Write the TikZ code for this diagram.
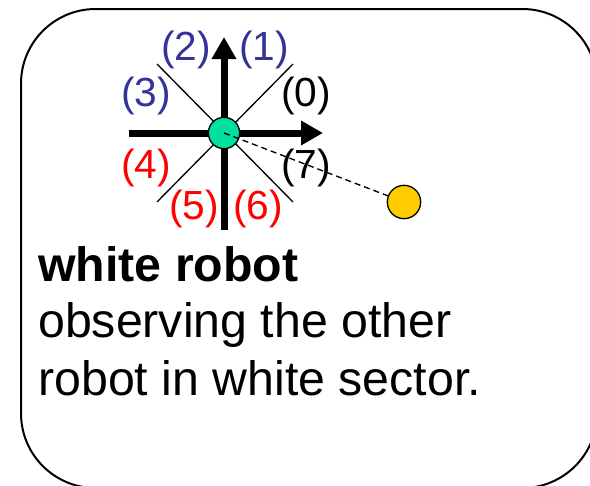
\documentclass[tikz,border=0pt]{standalone}
\usepackage{fontspec}
\setmainfont{Liberation Sans}
\usepackage{tikz}
\usetikzlibrary{arrows.meta,positioning}
\definecolor{secblue}{RGB}{51,51,153}
\definecolor{secred}{RGB}{255,0,0}
\definecolor{robotgreen}{RGB}{0,224,160}
\definecolor{robotyellow}{RGB}{255,204,0}
\begin{document}
\begin{tikzpicture}[
  x=0.75pt, y=-0.75pt,
  frame/.style={draw, line width=1.5pt, rounded corners=56pt},
  sector/.style={line width=1pt},
  axis/.style={line width=5.25pt, -{Triangle[length=16.5pt, width=17.5pt]}},
  robot/.style={circle, draw, line width=1pt, inner sep=0pt},
  lab/.style={inner sep=0pt, font=\fontsize{30.5pt}{36pt}\selectfont},
  txt/.style={inner sep=0pt, anchor=base west, font=\fontsize{36.2pt}{43pt}\selectfont}
]
\useasboundingbox (0,0) rectangle (590,486);
\clip (0,0) rectangle (590,486);
\draw[frame] (21,9) rectangle (597,488);

% sector borders
\coordinate (c) at (224,133);
\draw[sector] (157,64) -- (293,202);
\draw[sector] (293,64) -- (157,202);
% axes
\coordinate (xs) at (129,133);
\coordinate (xe) at (323,133);
\coordinate (ys) at (224,230);
\coordinate (ye) at (224,37);
\draw[axis] (xs) -- (xe);
\draw[axis] (ys) -- (ye);

% robots
\node[robot, fill=robotgreen, minimum size=23.5pt] (self) at (c) {};
\node[robot, fill=robotyellow, minimum size=25pt] (other) at (404,202) {};
\draw[line width=1pt, dash pattern=on 4.5pt off 3pt] (self.center) -- (other);

% sector labels
\foreach \n/\x/\y/\c in {0/306/96/black, 1/264/50/secblue, 2/186/50/secblue,
    3/146/96/secblue, 4/146/168/secred, 5/194/209/secred,
    6/258/209/secred, 7/306/168/black}
  \node[lab, text=\c] (s\n) at (\x,\y) {(\n)};

\node[txt] (title) at (38,281) {\bfseries white robot};
\node[txt] (line1) at (38,337) {observing the other};
\node[txt] (line2) at (38,395) {robot in white sector.};
\end{tikzpicture}
\end{document}
